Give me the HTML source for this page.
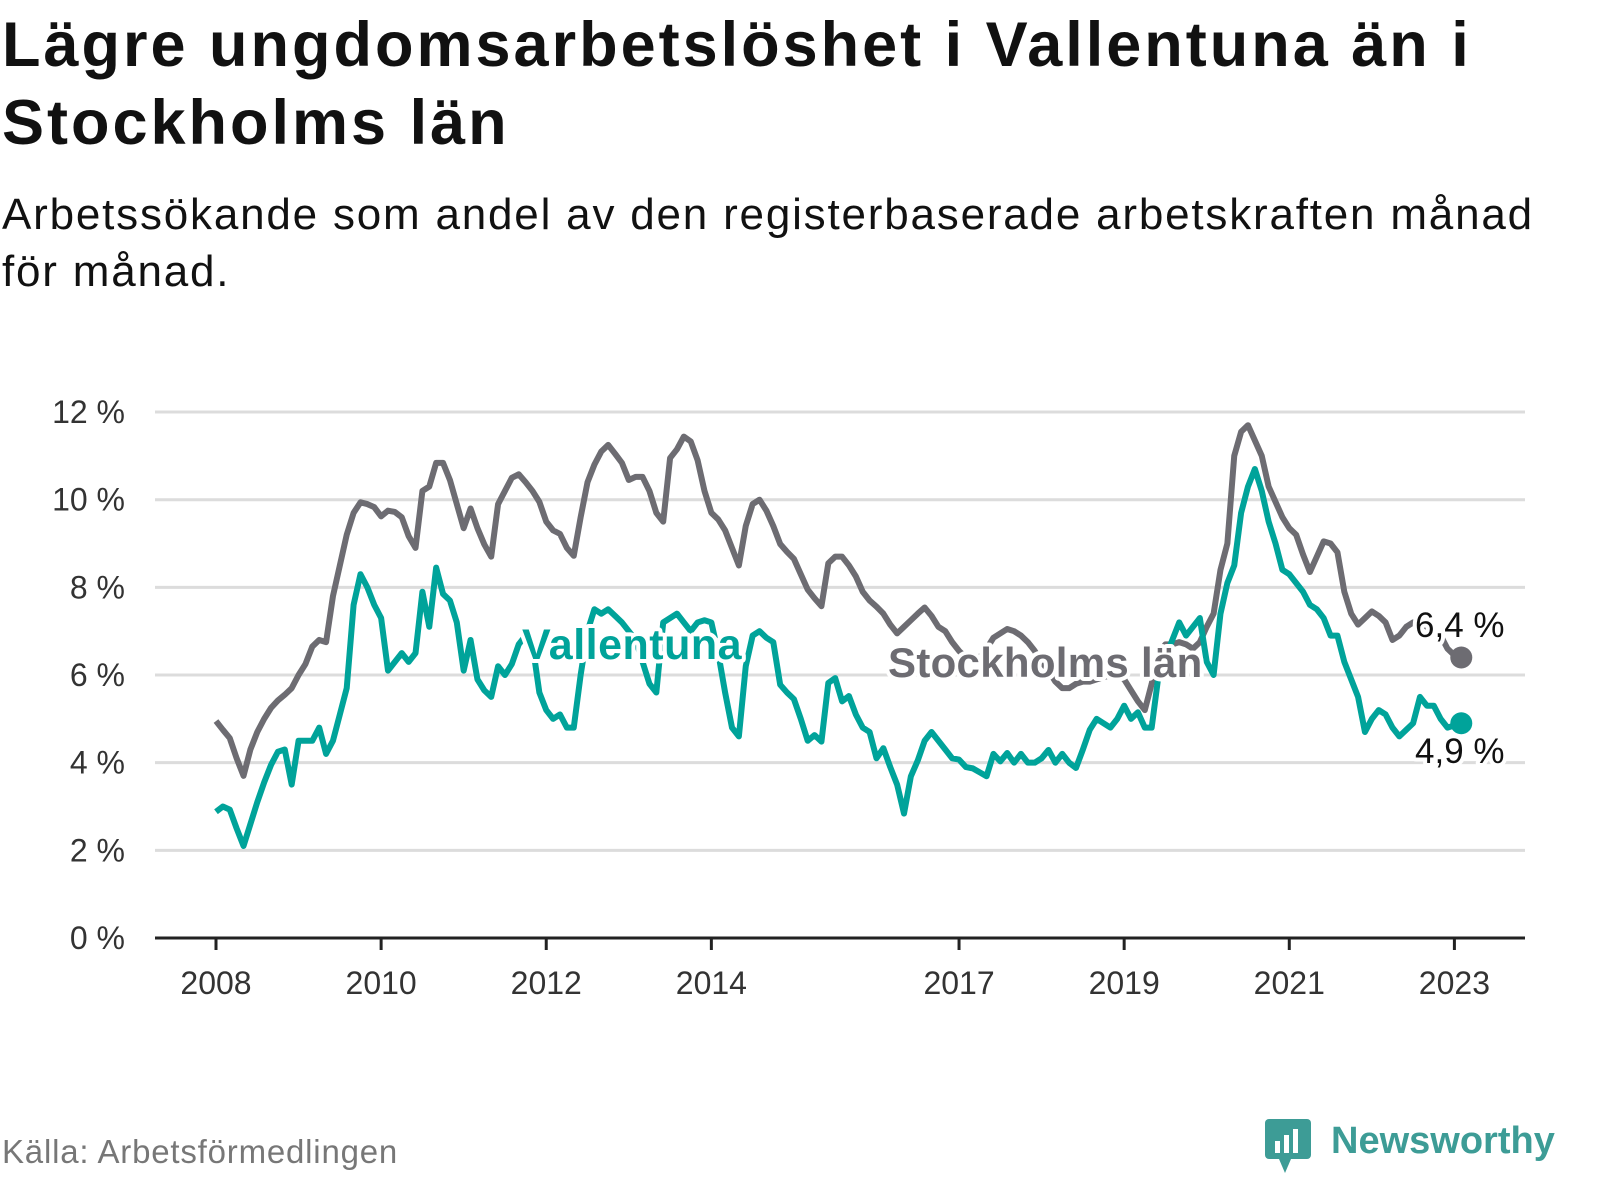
<!DOCTYPE html>
<html><head><meta charset="utf-8"><style>
body{margin:0;width:1600px;height:1200px;background:#fff;overflow:hidden;font-family:"Liberation Sans",sans-serif;}
#t{position:absolute;left:2px;top:6px;font-size:63px;font-weight:bold;line-height:78px;color:#111;letter-spacing:3px}
#s{position:absolute;left:2px;top:186px;font-size:44px;line-height:57px;color:#111;letter-spacing:1.8px}
#src{position:absolute;left:2px;top:1133px;font-size:33px;color:#777;letter-spacing:0.8px}
#logo{position:absolute;left:1265px;top:1113px;}
</style></head><body>
<div id="t">Lägre ungdomsarbetslöshet i Vallentuna än i<br>Stockholms län</div>
<div id="s">Arbetssökande som andel av den registerbaserade arbetskraften månad<br>för månad.</div>
<svg id="chart" width="1600" height="1200" style="position:absolute;left:0;top:0"></svg>
<div id="src">Källa: Arbetsförmedlingen</div>
<div id="logo">
<svg width="300" height="65"><rect x="0" y="6" width="46" height="40" rx="4" fill="#3d9c96"/><polygon points="14,46 26,46 20,60" fill="#3d9c96"/><rect x="10" y="28" width="5" height="12" fill="#fff"/><rect x="19" y="22" width="5" height="18" fill="#fff"/><rect x="28" y="16" width="5" height="24" fill="#fff"/><text x="66" y="40" font-size="38" font-weight="bold" fill="#3d9c96" font-family="Liberation Sans, sans-serif">Newsworthy</text></svg>
</div>
<script>
const yTicks=[0,2,4,6,8,10,12];
const yearLabels=["2008","2010","2012","2014","2017","2019","2021","2023"];
const yearMonths=[0,24,48,72,108,132,156,180];
const stockholm=[4.95,4.75,4.56,4.1,3.7,4.3,4.7,5.0,5.25,5.42,5.55,5.7,6.0,6.25,6.65,6.8,6.75,7.8,8.5,9.2,9.7,9.94,9.9,9.83,9.62,9.75,9.72,9.6,9.17,8.9,10.2,10.3,10.84,10.84,10.45,9.9,9.35,9.8,
9.35,8.98,8.7,9.9,10.2,10.5,10.58,10.4,10.2,9.95,9.5,9.3,9.22,8.9,8.72,9.6,10.4,10.8,11.1,11.25,11.05,10.84,10.45,10.52,10.52,10.2,9.7,9.5,10.95,11.15,11.44,11.33,10.9,10.2,
9.7,9.55,9.3,8.9,8.5,9.4,9.9,10.0,9.75,9.4,8.99,8.81,8.65,8.3,7.95,7.75,7.57,8.55,8.7,8.7,8.5,8.25,7.9,7.7,7.56,7.4,7.15,6.95,7.1,7.25,7.4,7.54,7.35,7.1,7.0,6.75,6.55,6.4,6.35,6.4,6.6,6.85,6.95,7.05,7.0,6.9,6.75,6.55,6.3,6.1,5.85,5.7,5.7,5.8,5.85,5.85,5.9,5.95,6.0,6.0,5.9,5.65,5.4,5.2,
5.8,6.5,6.7,6.7,6.75,6.7,6.6,6.75,7.1,7.4,8.4,9.0,11.0,11.55,11.7,11.35,11.0,10.3,9.95,9.6,9.35,9.2,8.75,8.35,8.7,9.05,9.0,8.8,7.9,7.4,7.15,7.3,7.45,7.35,7.2,6.8,6.9,7.1,7.2,7.2,7.1,7.0,6.9,6.6,6.45,6.4];
const vallentuna=[2.88,3.0,2.93,2.5,2.1,2.6,3.1,3.55,3.95,4.25,4.3,3.5,4.5,4.5,4.5,4.8,4.2,4.5,5.1,5.7,7.6,8.3,8.0,7.6,7.3,6.1,6.3,6.5,6.3,6.5,7.9,7.1,8.45,7.85,7.7,7.2,6.1,6.8,
5.9,5.65,5.5,6.2,6.0,6.25,6.7,6.9,6.7,5.6,5.2,5.0,5.1,4.8,4.8,6.0,7.0,7.5,7.4,7.5,7.35,7.2,7.0,6.8,6.3,5.8,5.6,7.2,7.3,7.4,7.2,7.0,7.2,7.25,
7.2,6.5,5.6,4.8,4.6,6.2,6.9,7.0,6.85,6.75,5.78,5.6,5.45,5.0,4.5,4.63,4.48,5.82,5.93,5.4,5.52,5.1,4.8,4.7,4.1,4.33,3.9,3.5,2.84,3.69,4.05,4.5,4.7,4.5,4.3,4.1,4.07,3.9,3.87,3.78,3.69,4.2,4.03,4.22,4.0,4.2,4.0,4.0,4.1,4.29,4.0,4.2,4.0,3.88,4.3,4.75,5.0,4.9,4.8,5.0,5.3,5.0,5.15,4.8,4.8,
6.0,6.4,6.8,7.2,6.9,7.1,7.3,6.3,6.0,7.4,8.1,8.5,9.7,10.3,10.7,10.2,9.5,9.0,8.4,8.3,8.1,7.9,7.6,7.5,7.3,6.9,6.9,6.3,5.9,5.5,4.7,5.0,5.2,5.1,4.8,4.6,4.75,4.9,5.5,5.3,5.3,5.0,4.8,4.85,4.9];
const lastLabels=["6,4 %","4,9 %"];

const NS="http://www.w3.org/2000/svg";
const svg=document.getElementById('chart');
const X=m=>216+m*6.88;
const Y=v=>938-v*43.83;
function mk(tag,at,parent){const e=document.createElementNS(NS,tag);for(const k in at)e.setAttribute(k,at[k]);(parent||svg).appendChild(e);return e;}
yTicks.forEach(t=>{
  if(t>0){const g=mk('line',{x1:155,x2:1525,y1:Y(t),y2:Y(t),stroke:'#dcdcdc','stroke-width':3});
  
  }
  const l=mk('text',{x:125,y:Y(t)+11,'text-anchor':'end','font-size':32,fill:'#333'});
  l.textContent=t+' %';
  
  
});
const ax=mk('line',{x1:155,x2:1525,y1:938,y2:938,stroke:'#222','stroke-width':3});


yearLabels.forEach((lab,i)=>{
  const x=X(yearMonths[i]);
  const tk=mk('line',{x1:x,x2:x,y1:938,y2:950,stroke:'#222','stroke-width':3});
  
  
  const t=mk('text',{x:x,y:994,'text-anchor':'middle','font-size':32,fill:'#333'});
  t.textContent=lab;
  
  
});
function line(data,color,name){
  const p=mk('polyline',{points:data.map((v,i)=>X(i)+','+Y(v)).join(' '),fill:'none',stroke:color,'stroke-width':6,'stroke-linejoin':'round'});
  
  
}
line(stockholm,'#6d6c72','stockholm-line');
line(vallentuna,'#00a39a','vallentuna-line');
function label(txt,x,y,color,name,size,weight,ls){
  const t=mk('text',{x:x,y:y,'font-size':size,'font-weight':weight,fill:color,stroke:'#fff','stroke-width':8,'paint-order':'stroke','stroke-linejoin':'round','letter-spacing':ls});
  t.textContent=txt;
  
  
}
label('Vallentuna',522,659,'#00a39a','vallentuna-label',43,'bold',0.5);
label('Stockholms län',888,677,'#6d6c72','stockholm-label',42,'bold',0.3);
const n=stockholm.length-1;
const d1=mk('circle',{cx:X(n),cy:Y(stockholm[n]),r:11,fill:'#6d6c72'});


const d2=mk('circle',{cx:X(vallentuna.length-1),cy:Y(vallentuna[vallentuna.length-1]),r:11,fill:'#00a39a'});


label(lastLabels[0],1415,637,'#111','stockholm-last-value',35,'normal',0);
label(lastLabels[1],1415,763,'#111','vallentuna-last-value',35,'normal',0);
</script>
</body></html>
